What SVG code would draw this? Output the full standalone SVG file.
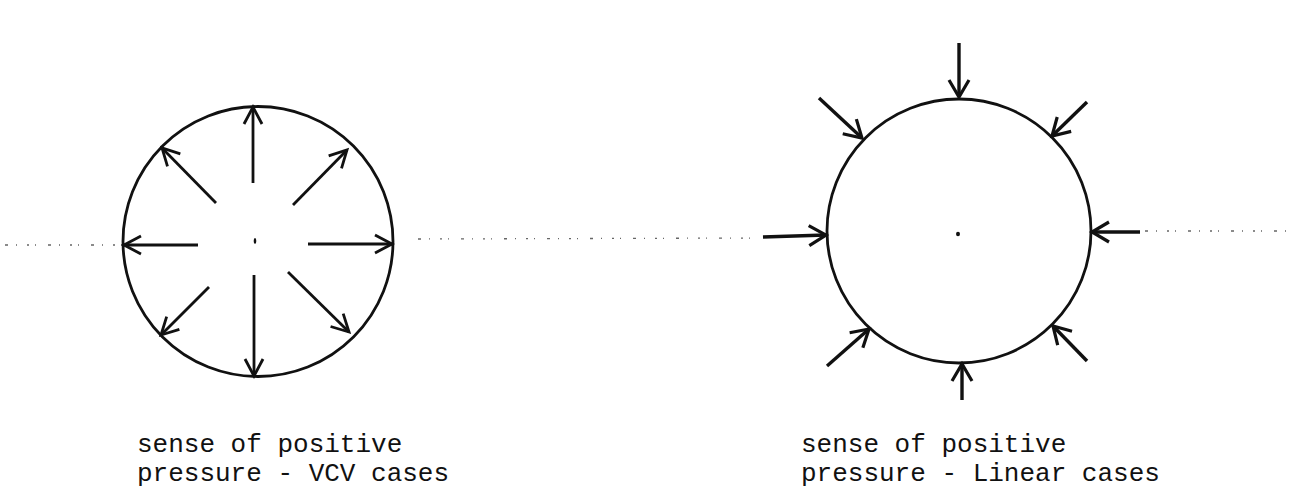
<svg xmlns="http://www.w3.org/2000/svg" width="1296" height="494" viewBox="0 0 1296 494">
<style>
.circ{fill:none;stroke:#111;stroke-width:2.8}
.arr{fill:none;stroke:#111;stroke-width:2.8;marker-end:url(#head)}
.arr2{fill:none;stroke:#111;stroke-width:3.4;marker-end:url(#head2)}
.axis{fill:none;stroke:#666;stroke-width:1.3;stroke-dasharray:3 8 1 10 2 6 1 12}
.lbl{font-family:"Liberation Mono","Courier New",monospace;font-size:26px;fill:#111}
</style>
<defs>
<marker id="head" markerUnits="userSpaceOnUse" markerWidth="34" markerHeight="34" viewBox="-22 -17 34 34" refX="0" refY="0" orient="auto">
<path d="M -17 -9 L 0 0 L -17 9" fill="none" stroke="#111" stroke-width="2.8"/>
</marker>
<marker id="head2" markerUnits="userSpaceOnUse" markerWidth="34" markerHeight="34" viewBox="-22 -17 34 34" refX="0" refY="0" orient="auto">
<path d="M -17 -10 L 0 0 L -17 10" fill="none" stroke="#111" stroke-width="3.2"/>
</marker>
</defs>
<rect width="1296" height="494" fill="#fff"/>
<g id="axis">
<line class="axis" x1="5" y1="245" x2="122" y2="245"/>
<line class="axis" x1="418" y1="239" x2="760" y2="238"/>
<line class="axis" x1="1145" y1="231" x2="1293" y2="231"/>
</g>
<g id="vcv-circle">
<circle class="circ" cx="258" cy="241.5" r="135"/>
<ellipse cx="255" cy="241" rx="1.3" ry="3" fill="#111"/>
</g>
<g id="linear-circle">
<circle class="circ" cx="959" cy="231" r="132"/>
<ellipse cx="958" cy="234" rx="2" ry="2.2" fill="#111"/>
</g>
<g id="connectors">
<line class="arr" x1="253" y1="183" x2="253" y2="107"/>
<line class="arr" x1="254" y1="275" x2="254" y2="376"/>
<line class="arr" x1="198" y1="245" x2="124" y2="245"/>
<line class="arr" x1="308" y1="244" x2="392" y2="244"/>
<line class="arr" x1="216" y1="203" x2="162" y2="148"/>
<line class="arr" x1="293" y1="205" x2="347" y2="150"/>
<line class="arr" x1="209" y1="287" x2="161" y2="335"/>
<line class="arr" x1="288" y1="272" x2="349" y2="332"/>
<line class="arr2" x1="959" y1="43" x2="959" y2="97"/>
<line class="arr2" x1="962" y1="400" x2="962" y2="364"/>
<line class="arr2" x1="763" y1="237" x2="826" y2="235"/>
<line class="arr2" x1="1140" y1="232" x2="1092" y2="232"/>
<line class="arr2" x1="819" y1="98" x2="862" y2="138"/>
<line class="arr2" x1="1087" y1="102" x2="1052" y2="136"/>
<line class="arr2" x1="827" y1="366" x2="869" y2="329"/>
<line class="arr2" x1="1087" y1="361" x2="1053" y2="326"/>
</g>
<g id="label-vcv">
<text class="lbl" x="137" y="452">sense of positive</text>
<text class="lbl" x="137" y="481">pressure - VCV cases</text>
</g>
<g id="label-linear">
<text class="lbl" x="801" y="452">sense of positive</text>
<text class="lbl" x="801" y="481">pressure - Linear cases</text>
</g>
</svg>
